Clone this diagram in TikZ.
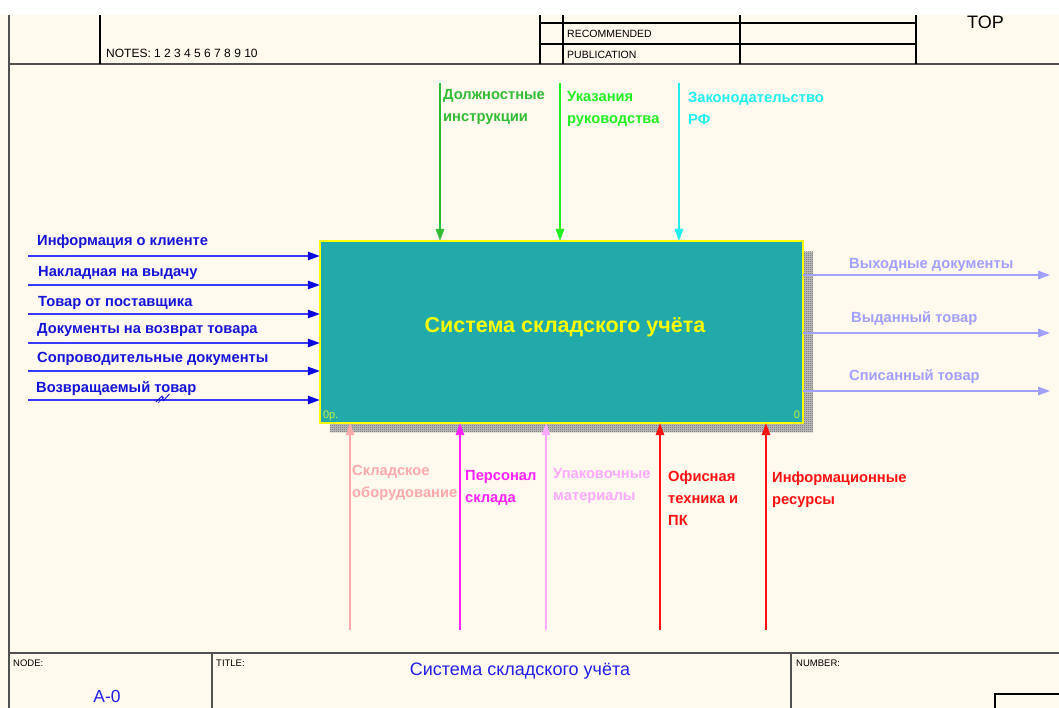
\documentclass[tikz,border=0pt]{standalone}
\usepackage{fontspec}
\setmainfont{Liberation Sans}
\usetikzlibrary{arrows.meta,patterns.meta}

% sheet and frame colours
\definecolor{sheet}{HTML}{FFF9EE}
\definecolor{framegray}{HTML}{505050}
% activity box
\definecolor{boxfill}{HTML}{22AAAA}
\definecolor{boxedge}{HTML}{FFFF00}
\definecolor{cornertxt}{HTML}{C8EE40}
% arrow colours
\definecolor{inline}{HTML}{3A3AFF}
\definecolor{inhead}{HTML}{0A0AE0}
\definecolor{intext}{HTML}{1414D8}
\definecolor{outcol}{HTML}{A0A0FF}
\definecolor{ctlA}{HTML}{33BB33}
\definecolor{ctlB}{HTML}{22EE22}
\definecolor{ctlC}{HTML}{22EEEE}
\definecolor{mechA}{HTML}{FFAAAA}
\definecolor{mechB}{HTML}{FF22FF}
\definecolor{mechC}{HTML}{FFAAFF}
\definecolor{mechD}{HTML}{FF1111}
\definecolor{titleblue}{HTML}{2020E8}

% fine checker used for the box shadow
\tikzdeclarepattern{
  name=finechecker,
  type=uncolored,
  bounding box={(0pt,0pt) and (2pt,2pt)},
  tile size={(2pt,2pt)},
  code={
    \fill (0pt,0pt) rectangle (1pt,1pt);
    \fill (1pt,1pt) rectangle (2pt,2pt);
  }
}

% stacked label lines, baseline on the first line
\newcommand{\lbllines}[1]{\vtop{\baselineskip=22pt\lineskiplimit=-20pt\halign{##\hfil\cr #1\crcr}}}

\tikzset{
  frameline/.style={draw=framegray, line width=1.5pt},
  tableline/.style={draw=black, line width=1.1pt},
  smalltxt/.style={font=\fontsize{9.5}{11}\selectfont, anchor=base west, inner sep=0pt},
  hdrtxt/.style={font=\fontsize{10.5}{12}\selectfont, anchor=base west, inner sep=0pt},
  lbl/.style={font=\bfseries\fontsize{14.7}{17}\selectfont, anchor=base west, inner sep=0pt},
  tip/.style={-{Triangle[length=12pt,width=8.5pt]}},
  inarrow/.style={draw=inline, line width=1.3pt, -{Triangle[length=12pt,width=8.5pt,color=inhead]}},
  outarrow/.style={draw=outcol, line width=1.3pt, tip},
  arrowin/.style={line width=1.3pt, tip},
}

\begin{document}
\begin{tikzpicture}[x=1pt, y=-1pt]
\useasboundingbox (0,0) rectangle (1059,708);
\fill[white] (0,0) rectangle (1059,15);
\fill[sheet] (0,15) rectangle (1059,708);

% ---- header strip ----
\draw[frameline] (9,15) -- (9,708);
\draw[frameline] (9,64) -- (1059,64);
\draw[tableline] (100,15) -- (100,64);
\node[hdrtxt, font=\fontsize{12}{14}\selectfont] (notes) at (106,58) {NOTES:\ 1 2 3 4 5 6 7 8 9 10};
\draw[tableline] (540,15) -- (540,64);
\draw[tableline] (563,15) -- (563,64);
\draw[tableline] (740,15) -- (740,64);
\draw[tableline] (916,15) -- (916,64);
\draw[tableline] (540,23) -- (916,23);
\draw[tableline] (540,44) -- (916,44);
\node[hdrtxt] (recommended) at (567,38) {RECOMMENDED};
\node[hdrtxt] (publication) at (567,59) {PUBLICATION};
\node[font=\fontsize{18}{20}\selectfont, anchor=base west, inner sep=0pt] (top) at (967,29) {TOP};

% ---- footer strip ----
\draw[frameline] (9,653) -- (1059,653);
\draw[frameline] (212,653) -- (212,708);
\draw[frameline] (791,653) -- (791,708);
\draw[tableline] (1059,694) -- (995,694) -- (995,708);
\node[smalltxt] (nodelbl) at (13,666) {NODE:};
\node[smalltxt] (titlelbl) at (216,666) {TITLE:};
\node[smalltxt] (numberlbl) at (796,666) {NUMBER:};
\node[font=\fontsize{17.5}{20}\selectfont, text=titleblue, anchor=base, inner sep=0pt] (nodeno) at (107,702) {A-0};
\node[font=\fontsize{18}{20}\selectfont, text=titleblue, anchor=base, inner sep=0pt] (sheettitle) at (520,675) {Система складского учёта};

% ---- activity box with its shadow ----
\node[minimum width=483pt, minimum height=182pt, inner sep=0pt] (box) at (561.5,332) {};
\fill[gray!45] ([shift={(10,11)}]box.north east) rectangle ([shift={(10,9)}]box.south west);
\fill[pattern=finechecker, pattern color=black!75] ([shift={(10,11)}]box.north east) rectangle ([shift={(10,9)}]box.south west);
\draw[fill=boxfill, draw=boxedge, line width=2pt] (box.north west) rectangle (box.south east);
\node[font=\bfseries\fontsize{21.5}{24}\selectfont, text=boxedge, anchor=base, inner sep=0pt] (boxtitle) at (565,332) {Система складского учёта};
\node[font=\fontsize{11}{12}\selectfont, text=cornertxt, anchor=base west, inner sep=0pt] (boxref) at ([shift={(3,-5)}]box.south west) {0р.};
\node[font=\fontsize{11}{12}\selectfont, text=cornertxt, anchor=base east, inner sep=0pt] (boxno) at ([shift={(-3,-5)}]box.south east) {0};

% ---- inputs ----
\coordinate (i1) at (28,256);
\coordinate (i2) at (28,285);
\coordinate (i3) at (28,314);
\coordinate (i4) at (28,343);
\coordinate (i5) at (28,371);
\coordinate (i6) at (28,400);
\foreach \k in {1,...,6} {\draw[inarrow] (i\k) -- (i\k -| box.west);}
\node[lbl, text=intext] (li1) at (37,246) {Информация о клиенте};
\node[lbl, text=intext] (li2) at (38,277) {Накладная на выдачу};
\node[lbl, text=intext] (li3) at (38,306) {Товар от поставщика};
\node[lbl, text=intext] (li4) at (37,333) {Документы на возврат товара};
\node[lbl, text=intext] (li5) at (37,362) {Сопроводительные документы};
\node[lbl, text=intext] (li6) at (36,392) {Возвращаемый товар};
% tunnel mark on the last input
\coordinate (zz) at (156,402);
\draw[draw=inhead, line width=0.9pt] (zz) -- ++(6,-6) -- ++(1.5,4.5) -- ++(6,-6.5);
\draw[draw=inhead, line width=0.6pt] ([shift={(2,1)}]zz) -- ++(6,-6);

% ---- controls ----
\coordinate (c1) at (440,83);
\coordinate (c2) at (560,83);
\coordinate (c3) at (679,83);
\draw[arrowin, draw=ctlA, color=ctlA] (c1) -- (c1 |- box.north);
\draw[arrowin, draw=ctlB, color=ctlB] (c2) -- (c2 |- box.north);
\draw[arrowin, draw=ctlC, color=ctlC] (c3) -- (c3 |- box.north);
\node[lbl, text=ctlA] (lc1) at (443,100) {\lbllines{Должностные\cr инструкции}};
\node[lbl, text=ctlB] (lc2) at (567,102) {\lbllines{Указания\cr руководства}};
\node[lbl, text=ctlC] (lc3) at (688,103) {\lbllines{Законодательство\cr РФ}};

% ---- mechanisms ----
\coordinate (m1) at (350,630);
\coordinate (m2) at (460,630);
\coordinate (m3) at (546,630);
\coordinate (m4) at (660,630);
\coordinate (m5) at (766,630);
\draw[arrowin, draw=mechA, color=mechA] (m1) -- (m1 |- box.south);
\draw[arrowin, draw=mechB, color=mechB] (m2) -- (m2 |- box.south);
\draw[arrowin, draw=mechC, color=mechC] (m3) -- (m3 |- box.south);
\draw[arrowin, draw=mechD, color=mechD] (m4) -- (m4 |- box.south);
\draw[arrowin, draw=mechD, color=mechD] (m5) -- (m5 |- box.south);
\node[lbl, text=mechA] (lm1) at (352,475) {\lbllines{Складское\cr оборудование}};
\node[lbl, text=mechB] (lm2) at (465,480) {\lbllines{Персонал\cr склада}};
\node[lbl, text=mechC] (lm3) at (553,478) {\lbllines{Упаковочные\cr материалы}};
\node[lbl, text=mechD] (lm4) at (668,481) {\lbllines{Офисная\cr техника и\cr ПК}};
\node[lbl, text=mechD] (lm5) at (772,482) {\lbllines{Информационные\cr ресурсы}};

% ---- outputs ----
\coordinate (o1) at (1050,275);
\coordinate (o2) at (1050,333);
\coordinate (o3) at (1050,391);
\foreach \k in {1,2,3} {\draw[outarrow] (o\k -| box.east) -- (o\k);}
\node[lbl, text=outcol] (lo1) at (849,269) {Выходные документы};
\node[lbl, text=outcol] (lo2) at (851,323) {Выданный товар};
\node[lbl, text=outcol] (lo3) at (849,380) {Списанный товар};
\end{tikzpicture}
\end{document}
